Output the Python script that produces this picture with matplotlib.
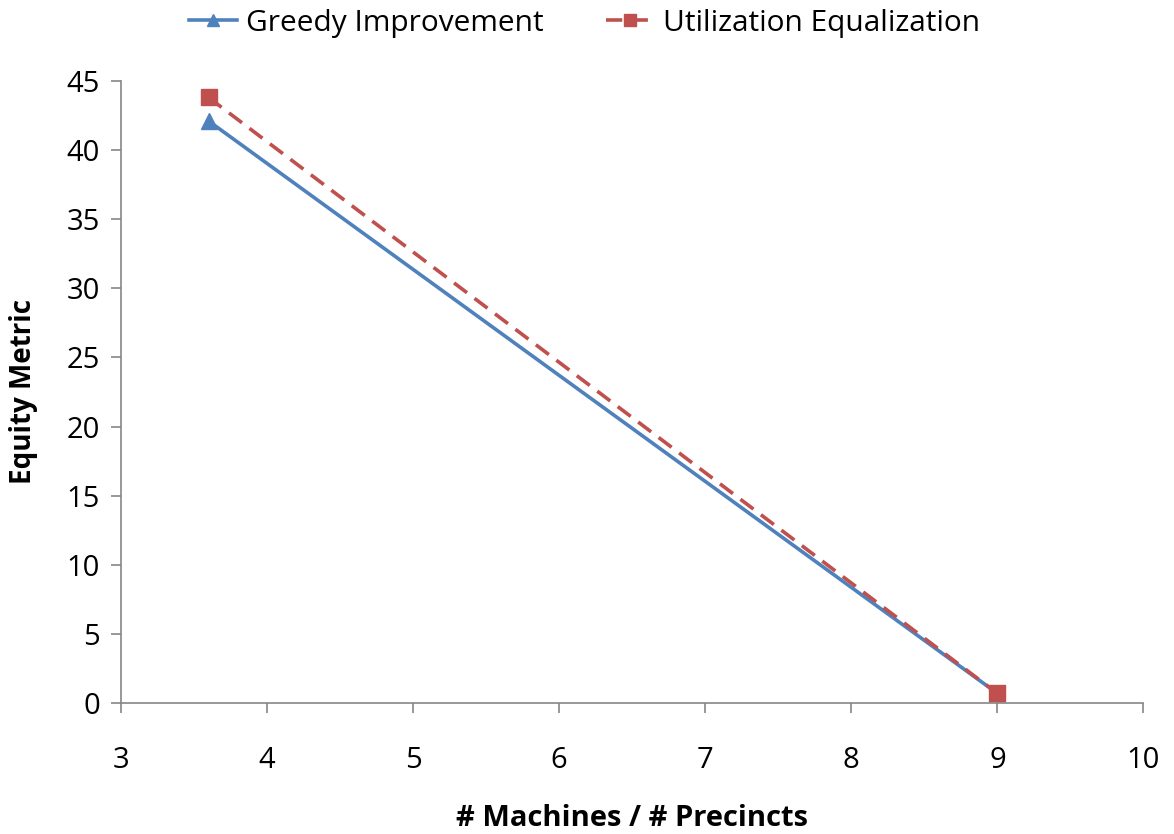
import numpy as np
import matplotlib.pyplot as plt

plt.rcParams['font.family'] = ['Open Sans', 'DejaVu Sans']

# datos
ratio = [3.6, 9.0]
greedy = [42.1, 0.7]
util_eq = [43.8, 0.7]
x_ticks = [3, 4, 5, 6, 7, 8, 9, 10]
y_ticks = [0, 5, 10, 15, 20, 25, 30, 35, 40, 45]

azul = '#4F81BD'
rojo = '#C0504D'
gris = '#868686'

fig = plt.figure(figsize=(11.74, 8.34), dpi=100)
ax = fig.add_axes([0.103, 0.157, 0.871, 0.746])

ax.plot(ratio, greedy, color=azul, linewidth=2.6, marker='^', markersize=11,
        label='Greedy Improvement', zorder=2)
ax.plot(ratio, util_eq, color=rojo, linewidth=2.6, linestyle=(0, (4.5, 2.6)),
        marker='s', markersize=11, label='Utilization Equalization', zorder=3)

ax.set_xlim(3, 10)
ax.set_ylim(0, 45)
ax.set_xticks(x_ticks)
ax.set_yticks(y_ticks)
ax.tick_params(axis='both', labelsize=21, color=gris, length=7, width=1.2, direction='out')
ax.tick_params(axis='x', pad=24)
ax.tick_params(axis='y', pad=8)

for lado in ['top', 'right']:
    ax.spines[lado].set_visible(False)
for lado in ['left', 'bottom']:
    ax.spines[lado].set_color(gris)
    ax.spines[lado].set_linewidth(1.2)

ax.set_xlabel('# Machines / # Precincts', fontsize=21, fontweight='bold')
ax.set_ylabel('Equity Metric', fontsize=20, fontweight='bold')
ax.xaxis.set_label_coords(0.5, -0.163)
ax.yaxis.set_label_coords(-0.081, 0.5)

leg = fig.legend(loc='upper center', bbox_to_anchor=(0.498, 1.022), ncol=2, frameon=False,
                 fontsize=21.5, handlelength=1.6, markerscale=0.8, columnspacing=2.1,
                 handletextpad=0.3)

fig.savefig('out.png', dpi=100)
